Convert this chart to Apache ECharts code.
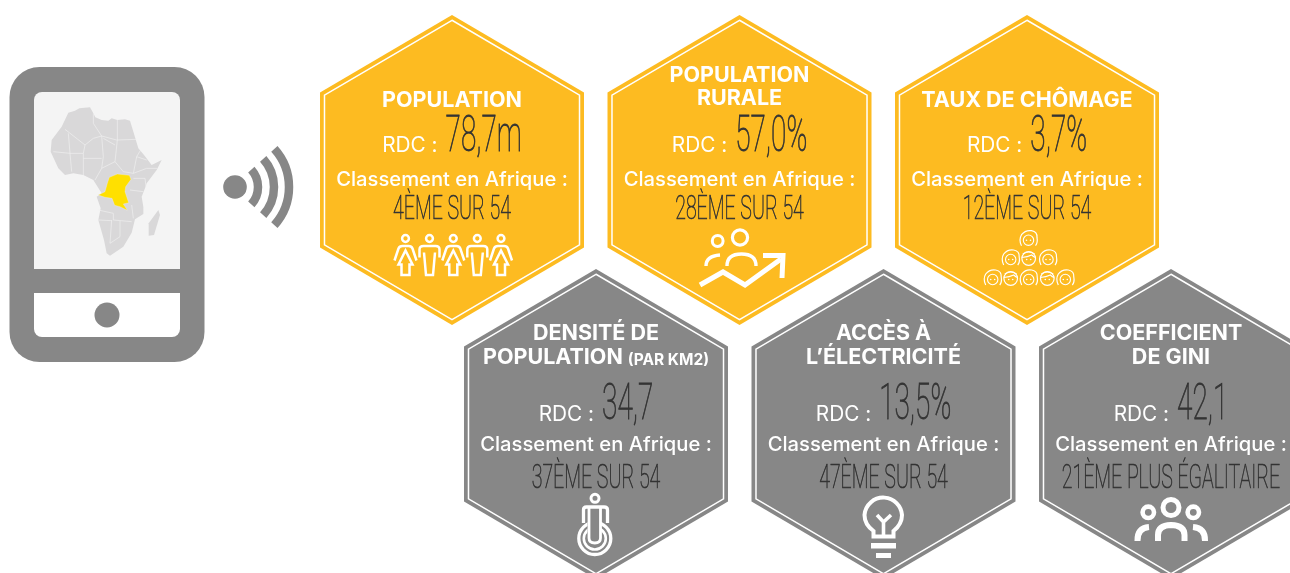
<!DOCTYPE html>
<html>
<head>
<meta charset="utf-8">
<style>html,body{margin:0;background:#fff}#chart{width:1290px;height:573px}</style>
<script src="https://cdn.jsdelivr.net/npm/echarts@6/dist/echarts.min.js"></script>
</head>
<body>
<div id="chart"></div>
<script>
// indicateurs
const titles = [['POPULATION'], ['POPULATION', 'RURALE'], ['TAUX DE CHÔMAGE'],
    ['DENSITÉ DE', 'POPULATION'], ['ACCÈS À', 'L’ÉLECTRICITÉ'], ['COEFFICIENT', 'DE GINI']];
const titleNotes = ['', '', '', '(PAR KM2)', '', ''];
const rdcValues = ['78,7m', '57,0%', '3,7%', '34,7', '13,5%', '42,1'];
const ranks = ['4ÈME SUR 54', '28ÈME SUR 54', '12ÈME SUR 54', '37ÈME SUR 54', '47ÈME SUR 54', '21ÈME PLUS ÉGALITAIRE'];
const rdcLabel = 'RDC :';
const rankLabel = 'Classement en Afrique :';

const YELLOW = '#fdbb21';
const GREY = '#878787';
const INK = '#333333';
const SANS = 'Inter, "Noto Sans", sans-serif';
const THIN = 'Roboto, "Liberation Sans", sans-serif';

// baselines relative to hexagon centre, one set per row
const rowText = [
    {title: [-63], titleTwo: [-88, -65], value: -18, rdc: -19, rank: 15, rankValue: 49},
    {title: [-85], titleTwo: [-84, -60], value: -4, rdc: -4, rank: 26, rankValue: 64}
];

const ctx = document.createElement('canvas').getContext('2d');
function textWidth(font, text) {
    ctx.font = font;
    return ctx.measureText(text).width;
}

const VALUE_FONT = '100 50px ' + THIN;
const VALUE_SCALE = 0.56;
const RANK_FONT = '100 34px ' + THIN;
const RANK_SCALE = 0.575;
const RDC_FONT = '400 20.8px ' + SANS;
const LABEL_FONT = '500 20.2px ' + SANS;
const TITLE_FONT = '700 21.5px ' + SANS;
const NOTE_FONT = '700 15.5px ' + SANS;

function text(x, y, str, font, fill, align, scaleX, outline) {
    const style = {text: str, x: 0, y: 0, font: font, fill: fill, align: align || 'center', verticalAlign: 'bottom'};
    if (outline) {
        style.stroke = fill;
        style.lineWidth = outline;
    }
    return {type: 'text', x: x, y: y, scaleX: scaleX || 1, style: style};
}

function renderHex(params, api) {
    const i = api.value(2);
    const row = api.value(3);
    const c = api.coord([api.value(0), api.value(1)]);
    const hw = 132, hh = 155;
    const hex = function (k) {
        return [[0, -hh], [hw, -hh / 2], [hw, hh / 2], [0, hh], [-hw, hh / 2], [-hw, -hh / 2]]
            .map(p => [c[0] + p[0] * k, c[1] + p[1] * k]);
    };
    const fill = row === 0 ? YELLOW : GREY;
    const t = rowText[row];
    const children = [
        {type: 'polygon', shape: {points: hex(1)}, style: {fill: fill}},
        {type: 'polygon', shape: {points: hex(0.966)}, style: {fill: 'none', stroke: '#fff', lineWidth: 1.5}}
    ];
    const lines = titles[i];
    const ys = lines.length === 1 ? t.title : t.titleTwo;
    lines.forEach(function (line, k) {
        if (titleNotes[i] && k === lines.length - 1) {
            const w1 = textWidth(TITLE_FONT, line);
            const w2 = textWidth(NOTE_FONT, titleNotes[i]);
            const x0 = c[0] - (w1 + 5 + w2) / 2;
            children.push(text(x0, c[1] + ys[k] + 5, line, TITLE_FONT, '#fff', 'left'));
            children.push(text(x0 + w1 + 5, c[1] + ys[k] + 4, titleNotes[i], NOTE_FONT, '#fff', 'left'));
        } else {
            children.push(text(c[0], c[1] + ys[k] + 5, line, TITLE_FONT, '#fff'));
        }
    });
    const rdcW = textWidth(RDC_FONT, rdcLabel);
    const valW = textWidth(VALUE_FONT, rdcValues[i]) * VALUE_SCALE;
    const x0 = c[0] - (rdcW + 8 + valW) / 2;
    children.push(text(x0, c[1] + t.rdc + 5, rdcLabel, RDC_FONT, '#fff', 'left'));
    children.push(text(x0 + rdcW + 8, c[1] + t.value + 11, rdcValues[i], VALUE_FONT, INK, 'left', VALUE_SCALE, 0.9));
    children.push(text(c[0], c[1] + t.rank + 5, rankLabel, LABEL_FONT, '#fff'));
    const rw = textWidth(RANK_FONT, ranks[i]) * RANK_SCALE;
    children.push(text(c[0] - rw / 2, c[1] + t.rankValue + 8, ranks[i], RANK_FONT, INK, 'left', RANK_SCALE, 0.7));
    return {type: 'group', children: children};
}

const hexData = titles.map(function (d, i) {
    const row = i < 3 ? 0 : 1;
    const col = i % 3;
    return [(row === 0 ? 452 : 596) + col * 287.5, 170 + row * 254, i, row];
});

// --- pictos, pixel outlines ---
function stroke(d, w, fill) {
    return {type: 'path', shape: {pathData: d}, style: {fill: fill || 'none', stroke: fill ? null : '#fff', lineWidth: w, lineCap: 'butt', lineJoin: 'miter'}};
}
function ring(x, y, r, w, color) {
    return {type: 'circle', shape: {cx: x, cy: y, r: r}, style: {fill: 'none', stroke: color || '#fff', lineWidth: w}};
}
function disc(x, y, r, color) {
    return {type: 'circle', shape: {cx: x, cy: y, r: r}, style: {fill: color}};
}

function woman(x, y) {
    return [ring(x, y, 3.4, 2.5), stroke(`M${x-11} ${y+22} L${x-7} ${y+10} Q${x-6} ${y+7.5} ${x-3} ${y+7.5} L${x+3} ${y+7.5} Q${x+6} ${y+7.5} ${x+7} ${y+10} L${x+11} ${y+22}
        M${x} ${y+12} L${x-7} ${y+26} L${x-4} ${y+26} L${x-4} ${y+36.5} L${x+4} ${y+36.5} L${x+4} ${y+26} L${x+7} ${y+26} Z`, 2.5)];
}
function man(x, y) {
    return [ring(x, y, 3.4, 2.5), stroke(`M${x-10} ${y+19} L${x-10} ${y+11} Q${x-10} ${y+7.5} ${x-6} ${y+7.5} L${x+6} ${y+7.5} Q${x+10} ${y+7.5} ${x+10} ${y+11} L${x+10} ${y+19}
        M${x-5.5} ${y+14} L${x-3.5} ${y+36.5} L${x+3.5} ${y+36.5} L${x+5.5} ${y+14}`, 2.5)];
}
function face(x, y, kind) {
    const r = [];
    if (kind) {
        r.push(ring(x, y + 0.5, 6.8, 1.2));
        r.push(stroke(`M${x-7} ${y-0.5} Q${x-1} ${y-1} ${x+3} ${y-3} Q${x+5} ${y-1} ${x+7} ${y-0.5} M${x-6} ${y-4} Q${x} ${y-8} ${x+6} ${y-4}`, 1.1));
    } else {
        r.push(stroke(`M${x-7} ${y+7} Q${x-10} ${y+1} ${x-7} ${y-4} Q${x-3} ${y-9} ${x+3} ${y-8} Q${x+9} ${y-7} ${x+8.5} ${y-1} Q${x+9.5} ${y+4} ${x+7} ${y+7}`, 1.2));
        r.push(ring(x, y + 1.5, 5.2, 1.1));
    }
    r.push(disc(x - 2, y + 1.5, 0.8, '#fff'), disc(x + 2, y + 1.5, 0.8, '#fff'));
    return r;
}

const popIcon = [].concat(woman(405.5, 238.5), man(429.5, 238.5), woman(453.3, 238.5), man(477.3, 238.5), woman(501, 238.5));
const ruralIcon = [
    ring(717.7, 241, 5.4, 3), ring(740, 237.5, 7.6, 3.2),
    stroke('M706 266 Q706 256 720 255', 3.4),
    stroke('M727 266 Q727 254 741.5 254 Q756 254 756 266', 3.4),
    stroke('M700 285 L723 272 L745 285 L781 259', 5),
    stroke('M763 255.5 L783 255.5 L782 278', 5)
];
const chomageIcon = [].concat(
    face(1028.5, 238.7, 0),
    face(1010.7, 258, 0), face(1028.7, 258, 1), face(1048, 258, 0),
    face(992.7, 278, 0), face(1010.7, 278, 1), face(1028.7, 278, 0), face(1047.3, 278, 1), face(1065.3, 278, 0)
);
const densiteIcon = [
    ring(595, 498.3, 4, 3),
    stroke('M583.5 523 L583.5 510 Q583.5 507 586.5 507 L604 507 Q607.5 507 607.5 510 L607.5 523', 3.3),
    ring(594.8, 538.5, 16, 3.3), ring(594.8, 538.5, 11, 2.6),
    stroke('M587.5 512 L600.5 512 L600.5 543 L587.5 543 Z', 0, GREY),
    stroke('M589 508 L589 538 Q589 543 594.8 543 Q600.5 543 600.5 538 L600.5 508', 2.8)
];
const elecIcon = [
    stroke('M873.5 536.5 L873.5 531 C868 527 864.5 522 864.5 515 A18.8 18.8 0 0 1 902 515 C902 522 898.5 527 893.5 531 L893.5 536.5 Z', 4),
    stroke('M877 515 L883.5 522 L891 515 M883.5 521 L883.5 535', 3.6),
    stroke('M871 543 L896 543 L896 548.5 L871 548.5 Z M876 553 L891 553 L891 558 L876 558 Z', 0, '#fff')
];
const giniIcon = [
    ring(1148.3, 512.3, 5.7, 4.6), ring(1171, 507.5, 8, 5), ring(1193.3, 512.3, 5.7, 4.6),
    stroke('M1158 541 L1158 535 Q1158 525.5 1171 525 Q1184.5 525.5 1184.5 535 L1184.5 541', 6),
    stroke('M1137.5 541 Q1137 528 1149 527', 6),
    stroke('M1205 541 Q1205.5 528 1193 527', 6)
];

// --- telephone + carte ---
function mapPath(d, style) {
    return {type: 'path', x: 30, y: 90, scaleX: 1 / 3, scaleY: 1 / 3, shape: {pathData: d}, style: style};
}
const africa = 'M115 68 L135 62 L148 55 L180 52 L190 70 L196 82 L215 90 L235 92 L245 85 L262 90 L285 88 L300 92 L306 112 L325 175 L342 195 L365 225 L395 210 L380 240 L350 280 L345 295 L335 320 L340 350 L340 372 L315 388 L305 428 L280 470 L240 497 L230 490 L222 450 L205 390 L212 355 L200 320 L215 310 L190 270 L160 255 L130 250 L105 255 L85 235 L62 185 L65 150 L95 110 Z';
const madagascar = 'M385 360 L390 375 L372 435 L356 437 L356 400 Z';
const drc = 'M238 262 L262 252 L298 256 L303 268 L287 290 L285 305 L296 338 L280 342 L292 361 L270 350 L254 346 L246 325 L225 322 L205 315 L225 305 L232 280 Z';
const borders = 'M105 118 L165 165 L190 145 L215 138 L260 150 L320 148 M190 70 L190 100 L215 138 M262 90 L262 150 L255 215 L280 245 L310 250 L320 200 L332 180 '
    + 'M115 130 L120 190 L160 190 L165 165 M70 185 L120 190 M215 138 L220 200 L215 235 L195 270 M220 145 L255 165 M160 205 L215 205 M120 190 L125 245 M160 190 L160 255 '
    + 'M255 215 L215 235 M310 250 L350 235 L382 235 M320 200 L350 210 M300 300 L340 305 M310 265 L345 265 L348 290 '
    + 'M205 360 L250 370 L250 390 L305 395 M245 390 L240 460 M205 390 L245 392 M270 392 L270 440 L240 460 M305 345 L310 385';
const deco = [
    {type: 'rect', shape: {x: 9.5, y: 67, width: 195, height: 295, r: 30}, style: {fill: GREY}},
    {type: 'rect', shape: {x: 34, y: 92, width: 146, height: 177, r: [8, 8, 0, 0]}, style: {fill: '#f4f4f4'}},
    {type: 'rect', shape: {x: 34, y: 293, width: 146, height: 44, r: [0, 0, 8, 8]}, style: {fill: '#fff'}},
    {type: 'circle', shape: {cx: 107, cy: 315, r: 12.5}, style: {fill: GREY}},
    mapPath(africa, {fill: '#d9d8d9'}),
    mapPath(madagascar, {fill: '#d9d8d9'}),
    mapPath(borders, {fill: 'none', stroke: '#f0f0f0', lineWidth: 2}),
    mapPath(drc, {fill: '#ffe000', stroke: '#f0f0f0', lineWidth: 1}),
    disc(235, 187, 11.8, GREY)
];
[26, 42, 57].forEach(function (r) {
    deco.push({
        type: 'arc',
        shape: {cx: 232, cy: 187, r: r, startAngle: -42 * Math.PI / 180, endAngle: 42 * Math.PI / 180},
        style: {stroke: GREY, lineWidth: 8.5, fill: 'none', lineCap: 'butt'}
    });
});
const pictos = deco.concat(popIcon, ruralIcon, chomageIcon, densiteIcon, elecIcon, giniIcon);

const chart = echarts.init(document.getElementById('chart'), null, {renderer: 'canvas'});
chart.setOption({
    backgroundColor: '#fff',
    animation: false,
    grid: {left: 0, right: 0, top: 0, bottom: 0},
    xAxis: {type: 'value', min: 0, max: 1290, show: false},
    yAxis: {type: 'value', min: 0, max: 573, inverse: true, show: false},
    tooltip: {show: false},
    series: [{
        type: 'custom',
        renderItem: renderHex,
        clip: false,
        data: hexData,
        silent: true
    }, {
        type: 'custom',
        renderItem: function () { return {type: 'group', children: pictos}; },
        clip: false,
        data: [[0, 0]],
        silent: true
    }]
});
</script>
</body>
</html>
